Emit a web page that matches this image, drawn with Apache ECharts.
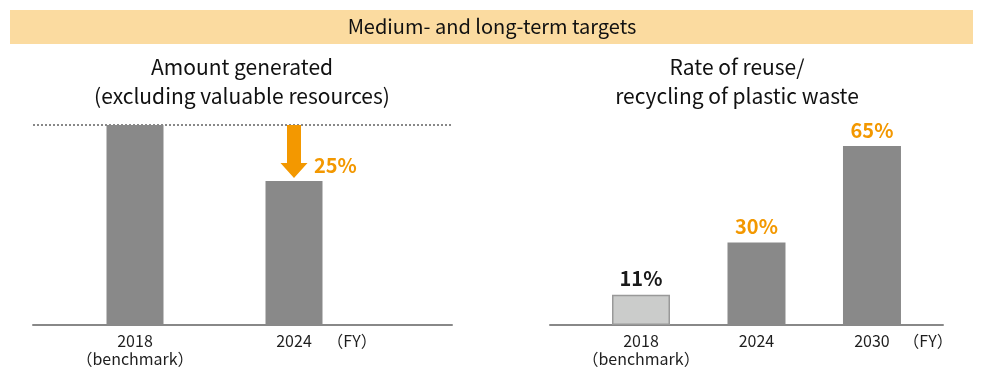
<!DOCTYPE html>
<html>
<head>
<meta charset="utf-8">
<script src="https://cdn.jsdelivr.net/npm/echarts@6/dist/echarts.min.js"></script>
<style>
  html, body { margin: 0; padding: 0; background: #fff; }
  #chart { width: 982px; height: 376px; }
</style>
</head>
<body>
<div id="chart"></div>
<script>
// left panel: amount generated (2018 = 100)
const amountPos = [0, 1]
const amountValues = [100, 72]
const amountTicks = [0, 1, 1.365]
const amountTickLabels = ['2018\n（benchmark）', '2024', '（FY）']
const reductionArrow = [[1, 100, 72]]
const reductionLabel = '25%'

// right panel: rate of reuse / recycling (%)
const ratePos = [0, 1, 2]
const rateValues = [11, 30, 65]
const rateLabels = ['11%', '30%', '65%']
const rateTicks = [0, 1, 2, 2.485]
const rateTickLabels = ['2018\n（benchmark）', '2024', '2030', '（FY）']

const FONT = '"Noto Sans CJK JP", "Noto Sans", sans-serif'
const ORANGE = '#f39800'
const GREY = '#898989'

const chart = echarts.init(document.getElementById('chart'))

function tickFormatter(ticks, labels) {
  return function (val) {
    const i = ticks.findIndex(t => Math.abs(t - val) < 1e-6)
    return i >= 0 ? labels[i] : ''
  }
}

function xAxisFor(gridIndex, min, max, ticks, labels) {
  return {
    type: 'value',
    gridIndex,
    min,
    max,
    splitLine: { show: false },
    axisTick: { show: false },
    axisLine: { show: true, onZero: false, lineStyle: { color: '#888', width: 2 } },
    axisLabel: {
      customValues: ticks,
      formatter: tickFormatter(ticks, labels),
      color: '#1e1e1e',
      fontFamily: FONT,
      fontSize: 16,
      lineHeight: 18,
      margin: 7,
      showMinLabel: true,
      showMaxLabel: true,
    },
  }
}

function renderArrow(params, api) {
  const top = api.coord([api.value(0), api.value(1)])
  const bottom = api.coord([api.value(0), api.value(2)])
  const cx = top[0]
  const y0 = top[1]
  const tip = bottom[1] - 3
  const shaft = 7
  const head = 13.5
  const headLen = 15
  return {
    type: 'group',
    children: [
      {
        type: 'polygon',
        shape: {
          points: [
            [cx - shaft, y0], [cx + shaft, y0], [cx + shaft, tip - headLen],
            [cx + head, tip - headLen], [cx, tip], [cx - head, tip - headLen],
            [cx - shaft, tip - headLen],
          ],
        },
        style: { fill: ORANGE },
      },
      {
        type: 'text',
        style: {
          x: cx + 20,
          y: tip - 13,
          text: reductionLabel,
          fill: ORANGE,
          font: 'bold 20px ' + FONT,
          verticalAlign: 'middle',
          align: 'left',
        },
      },
    ],
  }
}

chart.setOption({
  animation: false,
  textStyle: { fontFamily: FONT },
  graphic: [
    {
      type: 'rect',
      shape: { x: 10, y: 10, width: 963, height: 34 },
      style: { fill: '#fbdba0' },
      z: -1,
    },
  ],
  title: [
    {
      text: 'Medium- and long-term targets',
      left: 492,
      top: 14,
      textAlign: 'center',
      padding: 0,
      textStyle: { fontFamily: FONT, fontSize: 20, fontWeight: 'normal', color: '#111', lineHeight: 24 },
    },
    {
      text: 'Amount generated\n(excluding valuable resources)',
      left: 242,
      top: 53,
      textAlign: 'center',
      padding: 0,
      textStyle: { fontFamily: FONT, fontSize: 21, fontWeight: 'normal', color: '#111', lineHeight: 29 },
    },
    {
      text: 'Rate of reuse/\nrecycling of plastic waste',
      left: 737,
      top: 53,
      textAlign: 'center',
      padding: 0,
      textStyle: { fontFamily: FONT, fontSize: 21, fontWeight: 'normal', color: '#111', lineHeight: 29 },
    },
  ],
  grid: [
    { left: 33, width: 419, top: 125, height: 200 },
    { left: 550, width: 393, top: 146, height: 179 },
  ],
  xAxis: [
    xAxisFor(0, -0.6415, 1.9937, amountTicks, amountTickLabels),
    xAxisFor(1, -0.788, 2.615, rateTicks, rateTickLabels),
  ],
  yAxis: [
    { type: 'value', gridIndex: 0, min: 0, max: 100, show: false },
    { type: 'value', gridIndex: 1, min: 0, max: 65, show: false },
  ],
  series: [
    {
      type: 'bar',
      xAxisIndex: 0,
      yAxisIndex: 0,
      barWidth: 57,
      itemStyle: { color: GREY },
      data: amountPos.map((x, i) => [x, amountValues[i]]),
      markLine: {
        silent: true,
        symbol: 'none',
        label: { show: false },
        lineStyle: { type: [2, 2], color: '#888', width: 2 },
        data: [{ yAxis: amountValues[0] }],
      },
      z: 2,
    },
    {
      type: 'custom',
      xAxisIndex: 0,
      yAxisIndex: 0,
      renderItem: renderArrow,
      data: reductionArrow,
      z: 5,
    },
    {
      type: 'bar',
      xAxisIndex: 1,
      yAxisIndex: 1,
      barWidth: 58,
      data: ratePos.map((x, i) => ({
        value: [x, rateValues[i]],
        itemStyle: i === 0
          ? { color: '#cbcccb', borderColor: '#999', borderWidth: 1.5 }
          : { color: GREY },
        label: { color: i === 0 ? '#1a1a1a' : ORANGE },
      })),
      label: {
        show: true,
        position: 'top',
        distance: 6,
        fontFamily: FONT,
        fontSize: 20,
        fontWeight: 'bold',
        formatter: p => rateLabels[p.dataIndex],
      },
    },
  ],
})
</script>
</body>
</html>
